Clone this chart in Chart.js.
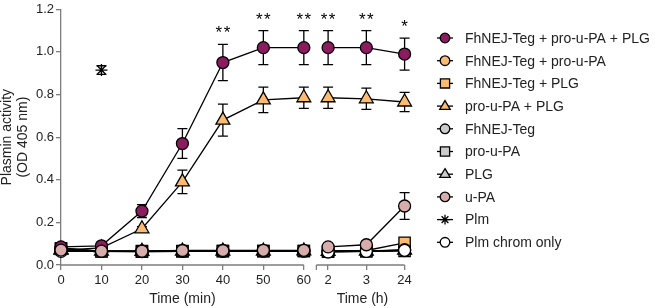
<!DOCTYPE html>
<html lang="en">
<head>
<meta charset="UTF-8">
<title>Plasmin activity</title>
<script src="https://cdn.jsdelivr.net/npm/chart.js"></script>
<style>
  html, body { margin: 0; padding: 0; background: #fff; }
  #wrap { width: 655px; height: 308px; }
</style>
</head>
<body>
<div id="wrap"><canvas id="plasminChart" width="655" height="308"></canvas></div>
<script>
// time points
const minutes = [0, 10, 20, 30, 40, 50, 60];
const hours = [2, 3, 24];
const yTicks = [0, 0.2, 0.4, 0.6, 0.8, 1.0, 1.2];

const names = ['FhNEJ-Teg + pro-u-PA + PLG', 'FhNEJ-Teg + pro-u-PA', 'FhNEJ-Teg + PLG',
  'pro-u-PA + PLG', 'FhNEJ-Teg', 'pro-u-PA', 'PLG', 'u-PA', 'Plm', 'Plm chrom only'];

// mean OD 405 nm (minutes part, hours part) and SD
const tegProPlgMin = [0.085, 0.09, 0.253, 0.57, 0.95, 1.02, 1.02];
const tegProPlgHr = [1.02, 1.02, 0.99];
const tegProPlgErrMin = [0.01, 0.01, 0.03, 0.07, 0.085, 0.08, 0.08];
const tegProPlgErrHr = [0.08, 0.08, 0.075];

const tegProMin = [0.07, 0.065, 0.065, 0.066, 0.066, 0.066, 0.066];
const tegProHr = [0.065, 0.065, 0.072];

const tegPlgMin = [0.075, 0.065, 0.065, 0.066, 0.066, 0.066, 0.066];
const tegPlgHr = [0.066, 0.068, 0.104];

const proPlgMin = [0.07, 0.08, 0.17, 0.39, 0.68, 0.775, 0.785];
const proPlgHr = [0.785, 0.78, 0.765];
const proPlgErrMin = [0.01, 0.01, 0.01, 0.055, 0.075, 0.06, 0.05];
const proPlgErrHr = [0.05, 0.05, 0.045];

const tegMin = [0.08, 0.065, 0.064, 0.065, 0.065, 0.065, 0.066];
const tegHr = [0.064, 0.064, 0.068];

const proMin = [0.078, 0.064, 0.063, 0.064, 0.065, 0.065, 0.066];
const proHr = [0.063, 0.064, 0.066];

const plgMin = [0.072, 0.065, 0.064, 0.065, 0.065, 0.065, 0.066];
const plgHr = [0.064, 0.065, 0.07];

const uPAMin = [0.07, 0.065, 0.065, 0.068, 0.068, 0.069, 0.069];
const uPAHr = [0.085, 0.095, 0.277];
const uPAErrHr = [0.005, 0.005, 0.063];

const plmMin = [null, 0.915, null, null, null, null, null];
const plmErrMin = [0, 0.02, 0, 0, 0, 0, 0];

const chromMin = [0.064, 0.064, 0.063, 0.064, 0.064, 0.065, 0.065];
const chromHr = [0.061, 0.064, 0.069];

// significance marks above the top series
const sigMin = ['', '', '', '', '**', '**', '**'];
const sigHr = ['**', '**', '*'];

// broken x axis: hours sit after the minutes segment
const hourStart = 63.1;
const hourSlot = i => 66.0 + i * 9.45;

function points(minVals, hrVals) {
  const pts = minutes.map((m, i) => ({ x: m, y: minVals[i] }));
  pts.push({ x: hourStart, y: null });
  hours.forEach((h, i) => pts.push({ x: hourSlot(i), y: hrVals ? hrVals[i] : null }));
  return pts;
}
function errs(errMin, errHr) {
  return minutes.map((m, i) => errMin ? errMin[i] : 0)
    .concat([0])
    .concat(hours.map((h, i) => errHr ? errHr[i] : 0));
}

const purple = '#8c1c60';
const orange = '#fbbb70';
const grey = '#cbcbcb';
const pink = '#d6adab';

function series(label, data, err, color, style, radius, order) {
  return {
    label: label, data: data, errors: err,
    pointStyle: style, pointRadius: radius, pointHoverRadius: radius,
    pointBackgroundColor: color, pointBorderColor: '#000', pointBorderWidth: 1.3,
    borderColor: '#000', borderWidth: 1.3, showLine: style !== 'star',
    spanGaps: false, order: order || 0, clip: false
  };
}

const datasets = [
  series(names[0], points(tegProPlgMin, tegProPlgHr), errs(tegProPlgErrMin, tegProPlgErrHr), purple, 'circle', 6),
  series(names[1], points(tegProMin, tegProHr), errs(), orange, 'circle', 6),
  series(names[2], points(tegPlgMin, tegPlgHr), errs(), orange, 'rect', 8),
  series(names[3], points(proPlgMin, proPlgHr), errs(proPlgErrMin, proPlgErrHr), orange, 'triangle', 8),
  series(names[4], points(tegMin, tegHr), errs(), grey, 'circle', 6),
  series(names[5], points(proMin, proHr), errs(), grey, 'rect', 8),
  series(names[6], points(plgMin, plgHr), errs(), grey, 'triangle', 8),
  series(names[7], points(uPAMin, uPAHr), errs(null, uPAErrHr), pink, 'circle', 6, -2),
  series(names[8], points(plmMin, null), errs(plmErrMin, null), '#000', 'star', 6),
  series(names[9], points(chromMin, chromHr), errs(), '#fff', 'circle', 6, -1)
];

const tickPos = minutes.concat(hours.map((h, i) => hourSlot(i)));
const tickText = minutes.map(String).concat(hours.map(String));

const axisGrey = '#7d7d7d';
const textCol = '#222';
const fontFam = 'Arial, "Liberation Sans", Helvetica, sans-serif';

const errorBars = {
  id: 'errorBars',
  beforeDatasetsDraw(chart) {
    const ctx = chart.ctx, xs = chart.scales.x, ys = chart.scales.y;
    ctx.save();
    ctx.strokeStyle = '#000';
    ctx.lineWidth = 1.3;
    chart.data.datasets.forEach(ds => {
      ds.data.forEach((p, i) => {
        const e = ds.errors[i];
        if (p.y == null || !e) return;
        const x = xs.getPixelForValue(p.x);
        const y1 = ys.getPixelForValue(p.y + e), y2 = ys.getPixelForValue(p.y - e);
        ctx.beginPath();
        ctx.moveTo(x, y1); ctx.lineTo(x, y2);
        ctx.moveTo(x - 5, y1); ctx.lineTo(x + 5, y1);
        ctx.moveTo(x - 5, y2); ctx.lineTo(x + 5, y2);
        ctx.stroke();
      });
    });
    ctx.restore();
  }
};

function drawMarker(ctx, style, x, y, r, fill) {
  ctx.beginPath();
  if (style === 'circle') {
    ctx.arc(x, y, r, 0, Math.PI * 2);
  } else if (style === 'rect') {
    ctx.rect(x - r, y - r, 2 * r, 2 * r);
  } else if (style === 'triangle') {
    ctx.moveTo(x, y - r * 1.1);
    ctx.lineTo(x + r * 1.05, y + r * 0.65);
    ctx.lineTo(x - r * 1.05, y + r * 0.65);
    ctx.closePath();
  } else if (style === 'star') {
    for (let k = 0; k < 4; k++) {
      const a = k * Math.PI / 4;
      ctx.moveTo(x + Math.cos(a) * r, y + Math.sin(a) * r);
      ctx.lineTo(x - Math.cos(a) * r, y - Math.sin(a) * r);
    }
    ctx.stroke();
    return;
  }
  ctx.fillStyle = fill;
  ctx.fill();
  ctx.stroke();
}

const extras = {
  id: 'extras',
  afterDraw(chart) {
    const ctx = chart.ctx, xs = chart.scales.x, ys = chart.scales.y;
    const yAxis = ys.getPixelForValue(0);
    ctx.save();
    // broken x axis line
    ctx.strokeStyle = axisGrey;
    ctx.lineWidth = 1.3;
    ctx.beginPath();
    ctx.moveTo(xs.getPixelForValue(0), yAxis);
    ctx.lineTo(xs.getPixelForValue(60), yAxis);
    const hs = xs.getPixelForValue(hourStart);
    ctx.moveTo(hs, yAxis);
    ctx.lineTo(xs.getPixelForValue(hourSlot(hours.length - 1)), yAxis);
    ctx.moveTo(hs, yAxis);
    ctx.lineTo(hs, yAxis + 5);
    ctx.stroke();

    // significance stars
    ctx.fillStyle = '#000';
    ctx.font = '17px ' + fontFam;
    ctx.letterSpacing = '1.5px';
    ctx.textAlign = 'center';
    ctx.textBaseline = 'alphabetic';
    const top = datasets[0];
    const sig = sigMin.concat(['']).concat(sigHr);
    top.data.forEach((p, i) => {
      if (!sig[i] || p.y == null) return;
      const y = ys.getPixelForValue(p.y + top.errors[i]) - 6;
      ctx.fillText(sig[i], xs.getPixelForValue(p.x) + 0.75, y);
    });
    ctx.letterSpacing = '0px';

    // axis titles
    ctx.fillStyle = textCol;
    ctx.font = '14px ' + fontFam;
    ctx.textBaseline = 'middle';
    ctx.fillText('Time (min)', (xs.getPixelForValue(0) + xs.getPixelForValue(60)) / 2, 299);
    ctx.fillText('Time (h)', (hs + xs.getPixelForValue(hourSlot(hours.length - 1))) / 2 + 2, 299);
    ctx.save();
    ctx.translate(7, (chart.chartArea.top + chart.chartArea.bottom) / 2);
    ctx.rotate(-Math.PI / 2);
    ctx.fillText('Plasmin activity', 0, 0);
    ctx.fillText('(OD 405 nm)', 0, 16.5);
    ctx.restore();

    // legend
    ctx.textAlign = 'left';
    datasets.forEach((ds, i) => {
      const y = 38 + i * 22.7;
      ctx.strokeStyle = '#000';
      ctx.lineWidth = 1.3;
      ctx.beginPath();
      ctx.moveTo(437, y); ctx.lineTo(453, y);
      ctx.stroke();
      const r = ds.pointStyle === 'rect' ? 4.6 : ds.pointStyle === 'triangle' ? 5 : 4.8;
      drawMarker(ctx, ds.pointStyle, 445, y, r, ds.pointBackgroundColor);
      ctx.fillStyle = textCol;
      ctx.fillText(ds.label, 465, y + 1);
    });
    ctx.restore();
  }
};

new Chart(document.getElementById('plasminChart'), {
  type: 'line',
  data: { datasets: datasets },
  options: {
    responsive: false,
    animation: false,
    devicePixelRatio: 1,
    layout: { padding: { left: 0, right: 250, top: 6, bottom: 0 } },
    plugins: { legend: { display: false }, tooltip: { enabled: false } },
    scales: {
      x: {
        type: 'linear', min: 0, max: 85,
        afterBuildTicks: s => { s.ticks = tickPos.map(v => ({ value: v })); },
        afterFit: s => { s.height = 43; s.paddingLeft = 0; s.paddingRight = 0; },
        ticks: {
          autoSkip: false, maxRotation: 0, padding: 3, color: textCol,
          font: { size: 13, family: fontFam },
          callback: (v, i) => tickText[i]
        },
        grid: { drawOnChartArea: false, tickLength: 5, color: axisGrey, lineWidth: 1.3 },
        border: { display: false }
      },
      y: {
        min: 0, max: 1.2,
        afterBuildTicks: s => { s.ticks = yTicks.map(v => ({ value: v })); },
        afterFit: s => { s.width = 61; s.paddingTop = 0; s.paddingBottom = 0; },
        ticks: {
          padding: 2, color: textCol,
          font: { size: 13, family: fontFam, lineHeight: 0.6 },
          callback: v => v.toFixed(1)
        },
        grid: { drawOnChartArea: false, tickLength: 5, color: axisGrey, lineWidth: 1.3 },
        border: { display: true, color: axisGrey, width: 1.3 }
      }
    }
  },
  plugins: [errorBars, extras]
});
</script>
</body>
</html>
